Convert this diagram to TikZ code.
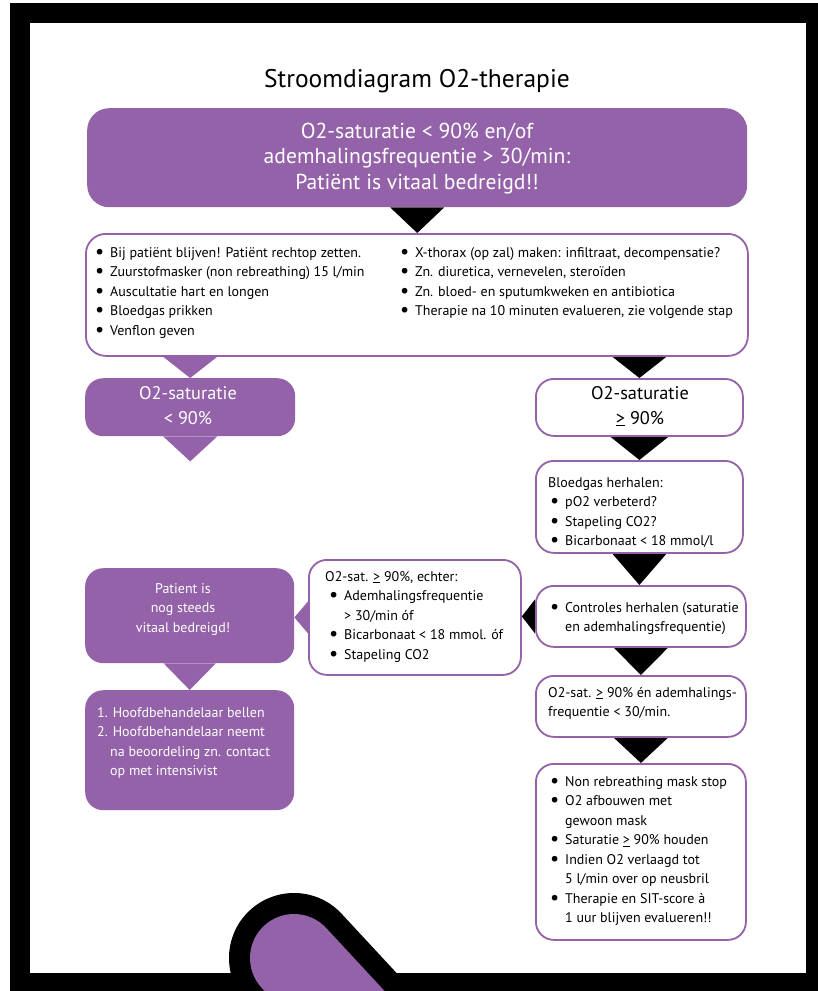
\documentclass[tikz,border=0pt]{standalone}
\usepackage{fontspec}
\setmainfont{PT Sans}
\usetikzlibrary{calc}
\definecolor{pur}{RGB}{148,98,168}
\pgfdeclarelayer{framelayer}
\pgfdeclarelayer{trilayer}
\pgfsetlayers{framelayer,trilayer,main}
\newcommand\lf{\fontsize{14}{19.5}\selectfont}
\newcommand\bu{\makebox[15pt][l]{\raisebox{-0.9pt}{\scalebox{1.45}{\textbullet}}}}
\newcommand\ind{\hspace*{15pt}}
\newcommand\ugeq{\underline{>}}
\begin{document}
\begin{tikzpicture}[x=1pt,y=-1pt,
  pbox/.style={fill=pur, draw=none, rounded corners=18pt, inner sep=0pt, anchor=north west},
  wbox/.style={fill=white, draw=pur, line width=1.8pt, rounded corners=18pt, inner sep=0pt, anchor=north west},
  txt/.style={inner sep=0pt, align=left, anchor=north west, font=\lf},
  wtxt/.style={inner sep=0pt, align=center, anchor=north, font=\lf, text=white},
]
\useasboundingbox (0,0) rectangle (818,991);
\begin{pgfonlayer}{framelayer}
\fill[white] (0,0) rectangle (818,991);
\fill[black] (10,3) rectangle (818,991);
\fill[white] (30,23) rectangle (806,973);
\end{pgfonlayer}

\node[font=\fontsize{25.5}{30}\selectfont, anchor=base, inner sep=0pt] (title) at (417,87) {Stroomdiagram O2-therapie};

% boxes
\node[pbox, rounded corners=22pt, minimum width=660pt, minimum height=99pt] (b1) at (87,108) {};
\node[wbox, rounded corners=20pt, minimum width=662pt, minimum height=122pt] (b2) at (85,233) {};
\node[pbox, minimum width=210pt, minimum height=58pt] (b3) at (85,378) {};
\node[wbox, minimum width=207pt, minimum height=57pt] (b4) at (535,378) {};
\node[wbox, minimum width=207pt, minimum height=92pt] (b5) at (535,460) {};
\node[wbox, minimum width=210pt, minimum height=61pt] (b6) at (535,585) {};
\node[wbox, minimum width=210pt, minimum height=61pt] (b7) at (535,675) {};
\node[wbox, minimum width=210pt, minimum height=176pt] (b8) at (535,763) {};
\node[wbox, minimum width=212pt, minimum height=115pt] (b9) at (308,559) {};
\node[pbox, minimum width=209pt, minimum height=95pt] (b10) at (85,568) {};
\node[pbox, minimum width=209pt, minimum height=120pt] (b11) at (85,690) {};

% texts
\node[wtxt, font=\fontsize{21.6}{25.5}\selectfont] (b1t) at (417,138-17.85) {\strut O2-saturatie < 90\% en/of\\ademhalingsfrequentie > 30/min:\\Patiënt is vitaal bedreigd!!};
\node[txt] (b2l) at (95,257-13.65) {\strut\bu Bij patiënt blijven! Patiënt rechtop zetten.\\\bu Zuurstofmasker (non rebreathing) 15 l/min\\\bu Auscultatie hart en longen\\\bu Bloedgas prikken\\\bu Venflon geven};
\node[txt] (b2r) at (400,257-13.65) {\strut\bu X-thorax (op zal) maken: infiltraat, decompensatie?\\\bu Zn. diuretica, vernevelen, steroïden\\\bu Zn. bloed- en sputumkweken en antibiotica\\\bu Therapie na 10 minuten evalueren, zie volgende stap};
\node[wtxt, font=\fontsize{18.3}{25}\selectfont] (b3t) at (188,399-17.5) {\strut O2-saturatie\\< 90\%};
\node[wtxt, text=black, font=\fontsize{18.3}{25}\selectfont] (b4t) at (640,399-17.5) {\strut O2-saturatie\\\ugeq{} 90\%};
\node[txt] (b5t) at (548,487-13.65) {\strut Bloedgas herhalen:\\\hspace*{2pt}\bu pO2 verbeterd?\\\hspace*{2pt}\bu Stapeling CO2?\\\hspace*{2pt}\bu Bicarbonaat < 18 mmol/l};
\node[txt] (b6t) at (550,612-13.65) {\strut\bu Controles herhalen (saturatie\\\ind en ademhalingsfrequentie)};
\node[txt] (b7t) at (548,697-13.65) {\strut O2-sat. \ugeq{} 90\% én ademhalings-\\frequentie < 30/min.};
\node[txt] (b8t) at (550,786-13.65) {\strut\bu Non rebreathing mask stop\\\bu O2 afbouwen met\\\ind gewoon mask\\\bu Saturatie \ugeq{} 90\% houden\\\bu Indien O2 verlaagd tot\\\ind 5 l/min over op neusbril\\\bu Therapie en SIT-score à\\\ind 1 uur blijven evalueren!!};
\node[txt] (b9t) at (325,581-13.65) {\strut O2-sat. \ugeq{} 90\%, echter:\\\hspace*{4pt}\bu Ademhalingsfrequentie\\\hspace*{4pt}\ind > 30/min óf\\\hspace*{4pt}\bu Bicarbonaat < 18 mmol. óf\\\hspace*{4pt}\bu Stapeling CO2};
\node[wtxt] (b10t) at (183,593-13.65) {\strut Patient is\\nog steeds\\vitaal bedreigd!};
\node[txt, text=white] (b11t) at (97,717-13.65) {\strut 1. Hoofdbehandelaar bellen\\2. Hoofdbehandelaar neemt\\\hspace*{13pt}na beoordeling zn. contact\\\hspace*{13pt}op met intensivist};

\coordinate (t4end) at ($(b3.south)+(0,25)$);

% connectors (triangles)
\begin{pgfonlayer}{trilayer}
\fill[black] ($(b1.south)+(-27,0)$) -- ($(b1.south)+(27,0)$) -- (b1.south |- b2.north) -- cycle;
\fill[pur] ($(b3.north |- b2.south)+(-27,0)$) -- ($(b3.north |- b2.south)+(27,0)$) -- (b3.north) -- cycle;
\fill[black] ($(b4.north |- b2.south)+(-27,0)$) -- ($(b4.north |- b2.south)+(27,0)$) -- (b4.north) -- cycle;
\fill[pur] ($(b3.south)+(-27,0)$) -- ($(b3.south)+(27,0)$) -- (t4end) -- cycle;
\fill[black] ($(b4.south)+(-29,0)$) -- ($(b4.south)+(29,0)$) -- (b5.north) -- cycle;
\fill[black] ($(b5.south)+(-27,0)$) -- ($(b5.south)+(27,0)$) -- (b5.south |- b6.north) -- cycle;
\fill[black] ($(b6.south)+(-27,0)$) -- ($(b6.south)+(27,0)$) -- (b7.north) -- cycle;
\fill[black] ($(b7.south)+(-27,0)$) -- ($(b7.south)+(27,0)$) -- (b8.north) -- cycle;
\fill[black] ($(b6.west)+(0,-17)$) -- ($(b6.west)+(0,17)$) -- (b9.east |- b6.west) -- cycle;
\fill[pur] ($(b9.west)+(0,-16)$) -- ($(b9.west)+(0,16)$) -- (b10.east |- b9.west) -- cycle;
\fill[pur] ($(b10.south)+(-26,0)$) -- ($(b10.south)+(26,0)$) -- (b11.north) -- cycle;
\end{pgfonlayer}

% decorative capsule at bottom
\begin{scope}
\clip (10,3) rectangle (818,991);
\draw[black, line width=130pt, line cap=round] (294,958) -- ++(102,110);
\draw[pur, line width=88pt, line cap=round] (294,958) -- ++(102,110);
\end{scope}
\end{tikzpicture}
\end{document}
